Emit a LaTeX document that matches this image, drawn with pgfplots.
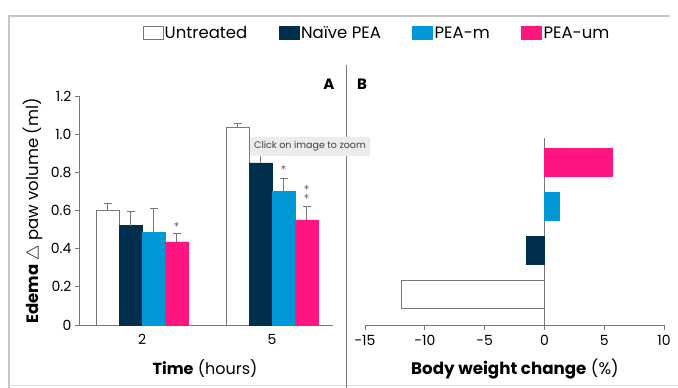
\documentclass[border=0pt]{standalone}
\usepackage{pgfplots}
\pgfplotsset{compat=1.18}
\usepackage{fontspec}
\setmainfont{Poppins}
\definecolor{navy}{RGB}{0,46,77}
\definecolor{peam}{RGB}{0,152,214}
\definecolor{peaum}{RGB}{255,20,128}
\definecolor{axgray}{RGB}{120,120,120}
\begin{document}
\begin{tikzpicture}[x=1pt,y=1pt]
\path[use as bounding box] (0,0) rectangle (678,388);
\draw[gray!45, line width=1.2pt] (9,0) -- (9,372) -- (670,372);
\draw[gray!25] (9,3) -- (678,3);
\draw[axgray, line width=0.8pt] (346,0) -- (346,323);

\begin{axis}[at={(79pt,63pt)}, anchor=south west, scale only axis,
  width=254pt, height=229pt,
  xmin=-0.485, xmax=1.469, ymin=0, ymax=1.2,
  axis x line=bottom, axis y line=left,
  axis line style={-, axgray, line width=0.8pt},
  ybar=0pt, bar width=23pt,
  xtick={0,1}, xticklabels={2,5},
  ytick={0,0.2,0.4,0.6,0.8,1.0,1.2},
  yticklabels={0,0.2,0.4,0.6,0.8,1.0,1.2},
  tick align=outside, major tick length=4pt,
  x tick style={draw=none},
  y tick style={axgray, line width=0.8pt},
  tick label style={font=\fontsize{14}{16}\selectfont},
  xticklabel style={yshift=-2pt},
  clip=false,
  legend columns=4,
  legend style={at={(1.172,1.275)}, anchor=center, draw=none, fill=none,
    font=\fontsize{16.5}{18}\selectfont,
    /tikz/every even column/.append style={column sep=30pt},
    nodes={inner sep=1.5pt}},
  legend cell align=left,
  legend image code/.code={\draw[#1, line width=0.7pt] (0pt,-6.5pt) rectangle (20pt,6.5pt);},
]
\addplot[fill=white, draw=axgray, line width=0.7pt,
  error bars/.cd, y dir=plus, y explicit,
  error bar style={axgray, line width=0.8pt},
  error mark options={axgray, line width=0.8pt, mark size=4pt, rotate=90}]
  coordinates {(0,0.603) +- (0,0.033) (1,1.037) +- (0,0.02)};
\addplot[fill=navy, draw=navy,
  error bars/.cd, y dir=plus, y explicit,
  error bar style={axgray, line width=0.8pt},
  error mark options={axgray, line width=0.8pt, mark size=4pt, rotate=90}]
  coordinates {(0,0.521) +- (0,0.075) (1,0.850) +- (0,0.05)};
\addplot[fill=peam, draw=peam,
  error bars/.cd, y dir=plus, y explicit,
  error bar style={axgray, line width=0.8pt},
  error mark options={axgray, line width=0.8pt, mark size=4pt, rotate=90}]
  coordinates {(0,0.484) +- (0,0.129) (1,0.702) +- (0,0.065)};
\addplot[fill=peaum, draw=peaum,
  error bars/.cd, y dir=plus, y explicit,
  error bar style={axgray, line width=0.8pt},
  error mark options={axgray, line width=0.8pt, mark size=4pt, rotate=90}]
  coordinates {(0,0.436) +- (0,0.043) (1,0.551) +- (0,0.069)};
\legend{Untreated, Naïve PEA, PEA-m, PEA-um}
\node[font=\fontsize{10.5}{10}\selectfont, inner sep=0pt, text=black!90] at ([xshift=34.5pt]axis cs:0,0.524) {$\ast$};
\node[font=\fontsize{10.5}{10}\selectfont, inner sep=0pt, text=black!90] at ([xshift=11.5pt]axis cs:1,0.821) {$\ast$};
\node[font=\fontsize{10.5}{10}\selectfont, inner sep=0pt, text=black!90] at ([xshift=34.5pt]axis cs:1,0.719) {$\ast$};
\node[font=\fontsize{10.5}{10}\selectfont, inner sep=0pt, text=black!90] at ([xshift=34.5pt]axis cs:1,0.671) {$\ast$};
\end{axis}

\begin{axis}[at={(365pt,63pt)}, anchor=south west, scale only axis,
  width=299pt, height=187pt,
  xmin=-15, xmax=10, ymin=-0.705, ymax=3.545,
  axis x line=bottom, axis y line=middle,
  axis line style={-, axgray, line width=0.8pt},
  xbar, bar width=28pt, bar shift=0pt,
  xtick={-15,-10,-5,0,5,10},
  xticklabels={-15,-10,-5,0,5,10},
  ytick=\empty,
  hide obscured x ticks=false,
  tick align=outside, major tick length=5pt,
  x tick style={axgray, line width=0.8pt},
  tick label style={font=\fontsize{14}{16}\selectfont},
  xticklabel style={yshift=-2pt},
  clip=false,
]
\addplot[fill=white, draw=axgray, line width=0.7pt] coordinates {(-12.0,0)};
\addplot[fill=navy, draw=navy] coordinates {(-1.54,1)};
\addplot[fill=peam, draw=peam] coordinates {(1.2,2)};
\addplot[fill=peaum, draw=peaum] coordinates {(5.68,3)};
\end{axis}

\node[font=\fontsize{16}{18}\selectfont] at (205,19) {\textbf{Time} (hours)};
\node[font=\fontsize{16.7}{18}\selectfont] at (515,19) {\textbf{Body weight change} (\%)};
\node[font=\fontsize{16.5}{18}\selectfont, rotate=90] at (33,177) {\textbf{Edema} $\triangle$ paw volume (ml)};
\node[font=\bfseries\fontsize{15}{16}\selectfont] at (329,304) {A};
\node[font=\bfseries\fontsize{15}{16}\selectfont] at (362,304) {B};
\node[fill=gray!15, rounded corners=2pt, text=gray!50!black, font=\fontsize{9.5}{10}\selectfont, minimum height=19pt, minimum width=120pt, inner sep=2pt] at (310,241.5) {Click on image to zoom};
\end{tikzpicture}
\end{document}
